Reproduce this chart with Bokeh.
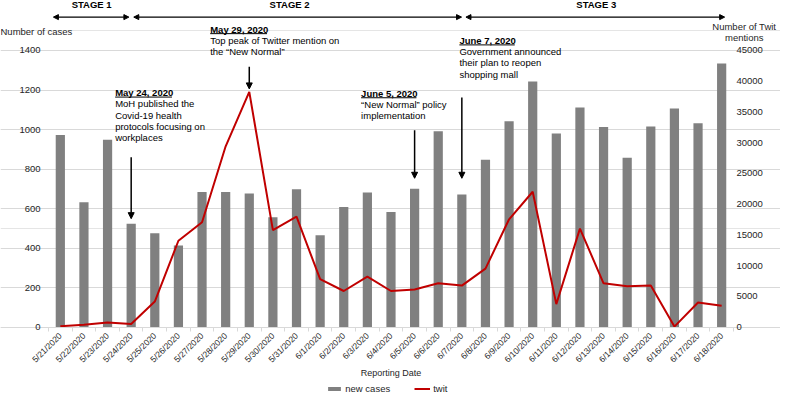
from bokeh.plotting import figure
from bokeh.models import (Range1d, LinearAxis, FixedTicker, Label, Arrow, NormalHead,
                          Legend, LegendItem, Grid)
from bokeh.embed import file_html
from bokeh.resources import INLINE
import math

# ---------------- data ----------------
dates = ["5/21/2020", "5/22/2020", "5/23/2020", "5/24/2020", "5/25/2020", "5/26/2020",
         "5/27/2020", "5/28/2020", "5/29/2020", "5/30/2020", "5/31/2020", "6/1/2020",
         "6/2/2020", "6/3/2020", "6/4/2020", "6/5/2020", "6/6/2020", "6/7/2020",
         "6/8/2020", "6/9/2020", "6/10/2020", "6/11/2020", "6/12/2020", "6/13/2020",
         "6/14/2020", "6/15/2020", "6/16/2020", "6/17/2020", "6/18/2020"]
new_cases = [972, 632, 948, 524, 476, 413, 684, 684, 677, 556, 698, 465, 608, 682, 583,
             701, 992, 671, 847, 1042, 1243, 980, 1112, 1013, 857, 1016, 1107, 1032, 1334]
twit = [150, 420, 780, 520, 4170, 14060, 17080, 29420, 38280, 15780, 17970, 7810, 5890,
        8230, 5890, 6150, 7140, 6770, 9530, 17550, 22030, 3750, 16040, 7140, 6670, 6770,
        100, 4010, 3490]
case_ticks = [0, 200, 400, 600, 800, 1000, 1200, 1400]
twit_ticks = [0, 5000, 10000, 15000, 20000, 25000, 30000, 35000, 40000, 45000]

stages = ["STAGE 1", "STAGE 2", "STAGE 3"]
events = [
    ("May 24, 2020", ["MoH published the", "Covid-19 health", "protocols focusing on", "workplaces"]),
    ("May 29, 2020", ["Top peak of Twitter mention on", "the \u201cNew Normal\u201d"]),
    ("June 5, 2020", ["\u201cNew Normal\u201d policy", "implementation"]),
    ("June 7, 2020", ["Government announced", "their plan to reopen", "shopping mall"]),
]
event_dates = ["5/24/2020", "5/29/2020", "6/5/2020", "6/7/2020"]

CASES_MAX = 1400
TWIT_MAX = 45000

# ---------------- layout (reference-pixel geometry) ----------------
REF_W, REF_H = 796, 410
W, H = 780, 394
PLOT_L, PLOT_R, PLOT_T, PLOT_B = 49.0, 748.0, 52.0, 340.0
STEP = (PLOT_R - PLOT_L) / len(dates)

def X(rx):  # reference x pixel -> category index coordinate
    return (rx - PLOT_L) / STEP - 0.5

def Y(ry):  # reference y pixel -> cases axis value
    return (PLOT_B - ry) * CASES_MAX / (PLOT_B - PLOT_T)

def T(ry):  # reference y pixel -> twit axis value
    return (PLOT_B - ry) * TWIT_MAX / (PLOT_B - PLOT_T)

FONT = "Liberation Sans"
TXT = "#262626"
FS = "9.5px"

idx = list(range(len(dates)))

p = figure(width=W, height=H, output_backend="svg", toolbar_location=None,
           x_range=Range1d(X(0), X(REF_W)), y_range=Range1d(Y(REF_H), Y(0)),
           min_border_left=0, min_border_right=0, min_border_top=0, min_border_bottom=0,
           x_axis_location=None, y_axis_location=None)
p.extra_y_ranges = {"twit": Range1d(T(REF_H), T(0))}
p.outline_line_color = None
p.xgrid.grid_line_color = None

bars = p.vbar(x=idx, top=new_cases, width=0.39, fill_color="#808080", line_color=None)
line = p.line(x=idx, y=twit, y_range_name="twit", line_color="#c00000", line_width=2)

# ---------------- axes (fixed inside the canvas) ----------------
la = LinearAxis(ticker=FixedTicker(ticks=case_ticks), fixed_location=X(PLOT_L))
ra = LinearAxis(y_range_name="twit", ticker=FixedTicker(ticks=twit_ticks), fixed_location=X(PLOT_R))
xa = LinearAxis(ticker=FixedTicker(ticks=idx, minor_ticks=[i - 0.5 for i in idx] + [idx[-1] + 0.5]),
                fixed_location=0,
                major_label_overrides={i: d for i, d in zip(idx, dates)},
                bounds=(X(PLOT_L), X(PLOT_R)))
for ax in (la, ra, xa):
    ax.axis_line_color = None
    ax.major_tick_line_color = None
    ax.minor_tick_line_color = None
    ax.major_tick_out = 0
    ax.major_tick_in = 0
    ax.minor_tick_in = 0
    ax.minor_tick_out = 0
    ax.major_label_text_font = FONT
    ax.major_label_text_font_size = FS
    ax.major_label_text_color = TXT
la.major_label_standoff = 8
ra.major_label_standoff = 3
xa.axis_line_color = "#d9d9d9"
xa.minor_tick_line_color = "#d9d9d9"
xa.minor_tick_out = 4
xa.major_label_orientation = math.pi / 4
xa.major_label_standoff = 3
xa.major_label_text_font_size = "8.5px"
xa.axis_label = "Reporting Date"
xa.axis_label_text_font = FONT
xa.axis_label_text_font_size = "9px"
xa.axis_label_text_font_style = "normal"
xa.axis_label_text_color = TXT
xa.axis_label_standoff = -3
p.add_layout(la, "left")
p.add_layout(ra, "right")
p.add_layout(xa, "below")

grid = Grid(dimension=1, ticker=la.ticker, bounds=(X(PLOT_L), X(PLOT_R)),
            grid_line_color="#d9d9d9", grid_line_width=1)
p.add_layout(grid)

# ---------------- annotations ----------------
def label(text, rx, ry, bold=False, align="left", color="black"):
    p.add_layout(Label(x=X(rx), y=Y(ry), text=text, text_font=FONT, text_font_size=FS,
                       text_font_style="bold" if bold else "normal", text_align=align,
                       text_baseline="middle", text_color=color))

def head(size):
    return NormalHead(size=size, fill_color="black", line_color="black")

def seg(x0, ry0, x1, ry1, width=1.0, start=False, end=False, size=6):
    p.add_layout(Arrow(x_start=x0, y_start=Y(ry0), x_end=x1, y_end=Y(ry1),
                       line_color="black", line_width=width,
                       start=head(size) if start else None,
                       end=head(size) if end else None))

# stage headers and spans
for name, cx in zip(stages, [93, 295, 608]):
    label(name, cx, 4.5, bold=True, align="center")
for a, b in [(54, 131), (136, 470.5), (475, 739)]:
    seg(X(a), 17.3, X(b), 17.3, width=1.2, start=True, end=True, size=5)

# axis titles
label("Number of cases", 0, 32, color=TXT)
label("Number of Twit", 759, 27.5, align="center", color=TXT)
label("mentions", 759, 39, align="center", color=TXT)

# event notes
ev_pos = [(117, 96, 58), (214, 30, 58), (368, 96.7, 56.5), (468.3, 41.7, 56.5)]
for (hd, body), (rx, ry, uw) in zip(events, ev_pos):
    label(hd, rx, ry, bold=True)
    seg(X(rx), ry + 4.5, X(rx + uw), ry + 4.5, width=1.0)
    for k, t in enumerate(body):
        label(t, rx, ry + 11.6 * (k + 1))

# event arrows pointing at the event date
arrow_span = [(163, 227), (69, 92), (135, 185), (101, 185)]
for d, (r0, r1) in zip(event_dates, arrow_span):
    i = dates.index(d)
    seg(i, r0, i, r1, width=1.5, end=True, size=6)

# legend
legend = Legend(items=[LegendItem(label="new cases", renderers=[bars]),
                       LegendItem(label="twit", renderers=[line])],
                orientation="horizontal", location=(333 * W / REF_W, 0),
                glyph_width=16, glyph_height=5, label_height=10, label_width=10,
                label_standoff=3, spacing=24, padding=0, margin=0,
                border_line_color=None, background_fill_alpha=0,
                label_text_font=FONT, label_text_font_size=FS, label_text_color=TXT)
p.add_layout(legend, "center")

open("out.html", "w").write(file_html(p, INLINE))
